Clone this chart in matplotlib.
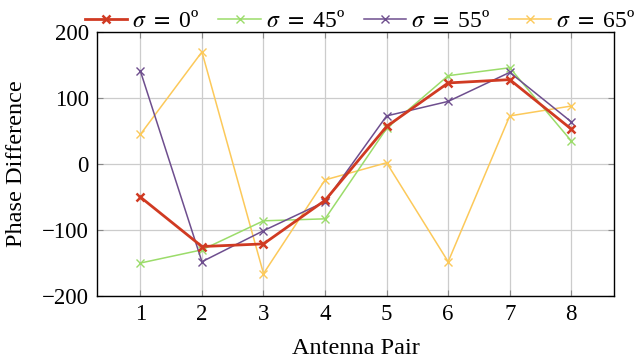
import matplotlib
matplotlib.use('Agg')
import matplotlib.pyplot as plt

plt.rcParams['font.family'] = ['Liberation Serif', 'DejaVu Serif']
plt.rcParams['mathtext.fontset'] = 'stix'

pairs = [1, 2, 3, 4, 5, 6, 7, 8]
sigma_0 = [-50, -125, -121, -55, 57, 123, 128, 53]
sigma_45 = [-150, -130, -86, -83, 54, 134, 146, 35]
sigma_55 = [141, -148, -101, -57, 73, 95, 139, 64]
sigma_65 = [45, 170, -166, -24, 2, -148, 73, 88]

fig = plt.figure(figsize=(6.4, 3.61), dpi=100)
ax = fig.add_axes([0.152, 0.18, 0.808, 0.731])

ax.plot(pairs, sigma_0, color='#d03a22', marker='x', markersize=6, mew=1.8, linewidth=2.0,
        label='$\\sigma$ $=$ 0º', zorder=5)
ax.plot(pairs, sigma_45, color='#9bdc6a', marker='x', markersize=6, mew=1.0, linewidth=1.1,
        label='$\\sigma$ $=$ 45º', zorder=3)
ax.plot(pairs, sigma_55, color='#6e4e8e', marker='x', markersize=6, mew=1.0, linewidth=1.1,
        label='$\\sigma$ $=$ 55º', zorder=4)
ax.plot(pairs, sigma_65, color='#fcc95a', marker='x', markersize=6, mew=1.0, linewidth=1.1,
        label='$\\sigma$ $=$ 65º', zorder=2)

ax.set_xlim(0.3, 8.7)
ax.set_ylim(-200, 200)
ax.set_xticks(pairs)
ax.set_yticks([-200, -100, 0, 100, 200])
ax.set_yticklabels(['\u2212200', '\u2212100', '0', '100', '200'])
ax.grid(True, color='#cccccc', linewidth=0.9)
ax.set_axisbelow(True)
ax.tick_params(direction='in', top=True, right=True, labelsize=16.5, length=4,
               color='#888888', pad=6)
for s in ax.spines.values():
    s.set_linewidth(1.0)

ax.set_xlabel('Antenna Pair', fontsize=17.5, labelpad=9)
ax.set_ylabel('Phase Difference', fontsize=17.5, labelpad=11)

ax.legend(loc='lower center', bbox_to_anchor=(0.508, 0.99), ncol=4, frameon=False,
          fontsize=17, handlelength=1.8, columnspacing=0.8, handletextpad=0.2,
          borderaxespad=0.0, borderpad=0.1)

fig.savefig('out.png', dpi=100)
